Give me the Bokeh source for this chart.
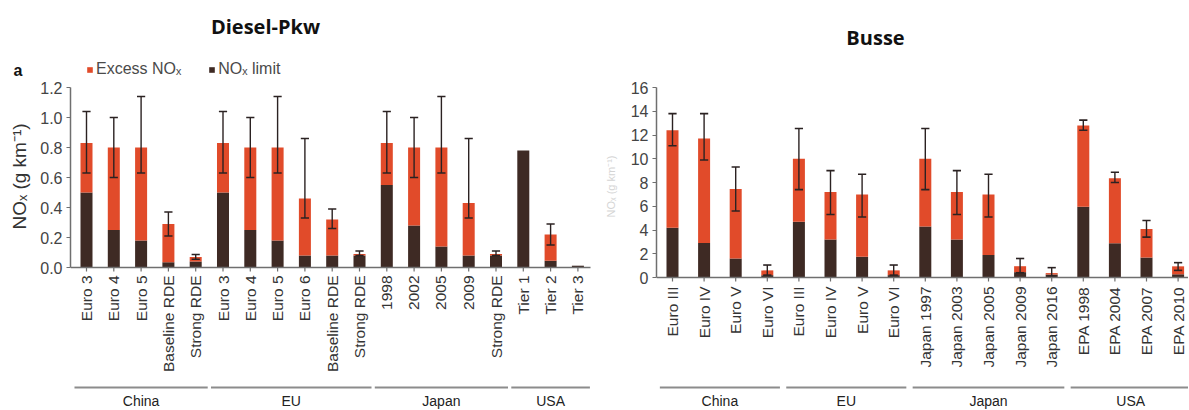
import math
from bokeh.plotting import figure
from bokeh.layouts import row
from bokeh.models import (ColumnDataSource, Range1d, FixedTicker, NumeralTickFormatter,
                          Legend, LegendItem)
from bokeh.core.properties import value
from bokeh.embed import file_html
from bokeh.resources import INLINE

# ---------------- data: Diesel-Pkw (NOx, g/km) ----------------
car_labels = ["Euro 3", "Euro 4", "Euro 5", "Baseline RDE", "Strong RDE",
              "Euro 3", "Euro 4", "Euro 5", "Euro 6", "Baseline RDE", "Strong RDE",
              "1998", "2002", "2005", "2009", "Strong RDE",
              "Tier 1", "Tier 2", "Tier 3"]
car_groups = ["China"] * 5 + ["EU"] * 6 + ["Japan"] * 5 + ["USA"] * 3
car_total = [0.83, 0.80, 0.80, 0.29, 0.07,
             0.83, 0.80, 0.80, 0.46, 0.32, 0.09,
             0.83, 0.80, 0.80, 0.43, 0.09,
             0.78, 0.22, 0.012]
car_limit = [0.50, 0.25, 0.18, 0.035, 0.04,
             0.50, 0.25, 0.18, 0.08, 0.08, 0.08,
             0.55, 0.28, 0.14, 0.08, 0.08,
             0.78, 0.045, 0.012]
car_err_low = [0.63, 0.60, 0.63, 0.21, 0.055,
               0.63, 0.60, 0.63, 0.33, 0.26, 0.08,
               0.63, 0.60, 0.63, 0.33, 0.08,
               None, 0.15, None]
car_err_high = [1.04, 1.00, 1.14, 0.37, 0.087,
                1.04, 1.00, 1.14, 0.86, 0.39, 0.11,
                1.04, 1.00, 1.14, 0.86, 0.11,
                None, 0.29, None]
car_ticks = [0.0, 0.2, 0.4, 0.6, 0.8, 1.0, 1.2]

# ---------------- data: Busse ----------------
bus_labels = ["Euro III", "Euro IV", "Euro V", "Euro VI",
              "Euro III", "Euro IV", "Euro V", "Euro VI",
              "Japan 1997", "Japan 2003", "Japan 2005", "Japan 2009", "Japan 2016",
              "EPA 1998", "EPA 2004", "EPA 2007", "EPA 2010"]
bus_groups = ["China"] * 4 + ["EU"] * 4 + ["Japan"] * 5 + ["USA"] * 4
bus_total = [12.4, 11.7, 7.45, 0.6,
             10.0, 7.2, 7.0, 0.6,
             10.0, 7.2, 7.0, 0.95, 0.37,
             12.8, 8.35, 4.08, 0.94]
bus_limit = [4.2, 2.9, 1.6, 0.2,
             4.7, 3.2, 1.75, 0.2,
             4.3, 3.2, 1.9, 0.45, 0.25,
             5.96, 2.88, 1.68, 0.27]
bus_err_low = [11.1, 9.9, 5.6, 0.2,
               7.4, 5.3, 5.1, 0.2,
               7.4, 5.3, 5.1, 0.4, 0.1,
               12.4, 8.0, 3.4, 0.6]
bus_err_high = [13.8, 13.8, 9.3, 1.05,
                12.55, 9.0, 8.7, 1.05,
                12.55, 9.0, 8.7, 1.6, 0.83,
                13.25, 8.86, 4.8, 1.25]
bus_ticks = [0, 2, 4, 6, 8, 10, 12, 14, 16]

RED = "#e14b2a"
DARK = "#3e2a24"
ERR = "#2b2222"
AXIS = "#6f6f6f"
TXT = "#333333"
FONT = "Liberation Sans"
TITLE_FONT = "Open Sans"
HEIGHT = 409


def strip(width):
    s = figure(width=width, height=HEIGHT, output_backend="svg", toolbar_location=None,
               x_range=Range1d(0, width), y_range=Range1d(0, HEIGHT),
               x_axis_location=None, y_axis_location=None, min_border=0)
    s.outline_line_color = None
    s.grid.visible = False
    return s


def make_panel(labels, groups, total, limit, err_lo, err_hi, ticks, fmt, cfg):
    W = cfg["width"]
    off = cfg["page_x"]
    bar0, dx, y0, ppu = cfg["bar0"], cfg["dx"], cfg["y0"], cfg["ppu"]

    def X(px):  # page x -> data x
        return (px - bar0) / dx

    def Y(py):  # page y -> data y
        return (y0 - py) / ppu

    p = figure(width=W, height=HEIGHT, output_backend="svg", toolbar_location=None,
               x_range=Range1d(X(cfg["frame_left"]), X(off + W)),
               y_range=Range1d(Y(HEIGHT), Y(0)),
               x_axis_location=None, min_border=0,
               min_border_left=cfg["frame_left"] - off)
    p.outline_line_color = None
    p.grid.visible = False

    n = len(labels)
    xs = list(range(n))
    src = ColumnDataSource(dict(x=xs, total=total, limit=limit, zero=[0] * n))
    r_lim = p.vbar(x="x", bottom="zero", top="limit", width=cfg["bar_w"], source=src,
                   fill_color=DARK, line_color=None)
    r_exc = p.vbar(x="x", bottom="limit", top="total", width=cfg["bar_w"], source=src,
                   fill_color=RED, line_color=None)

    # error bars
    ex = [i for i in xs if err_lo[i] is not None]
    esrc = ColumnDataSource(dict(x=ex, lo=[err_lo[i] for i in ex], hi=[err_hi[i] for i in ex],
                                 xl=[i - cfg["cap"] for i in ex], xr=[i + cfg["cap"] for i in ex]))
    p.segment(x0="x", y0="lo", x1="x", y1="hi", source=esrc, line_color=ERR, line_width=1.4)
    p.segment(x0="xl", y0="hi", x1="xr", y1="hi", source=esrc, line_color=ERR, line_width=1.6)
    p.segment(x0="xl", y0="lo", x1="xr", y1="lo", source=esrc, line_color=ERR, line_width=1.6)

    # x baseline, ticks and rotated category labels
    p.segment(x0=[X(cfg["frame_left"])], y0=[0], x1=[X(cfg["axis_end"])], y1=[0],
              line_color=AXIS, line_width=1.5)
    tick_len = 4 / ppu
    p.segment(x0=xs, y0=[0] * n, x1=xs, y1=[-tick_len] * n, line_color=AXIS, line_width=1.2)
    p.text(x=xs, y=[Y(cfg["label_top"])] * n, text=labels, angle=math.pi / 2,
           text_align="right", text_baseline="middle", text_font=value(FONT),
           text_font_size=cfg["tick_font"], text_color=TXT)

    # group brackets
    names = []
    for g in groups:
        if g not in names:
            names.append(g)
    gx0, gx1, gxc = [], [], []
    for g in names:
        idx = [i for i, gg in enumerate(groups) if gg == g]
        gx0.append(idx[0] - cfg["gpad"])
        gx1.append(idx[-1] + cfg["gpad"])
        gxc.append((idx[0] + idx[-1]) / 2)
    p.segment(x0=gx0, y0=[Y(cfg["gline"])] * len(names), x1=gx1, y1=[Y(cfg["gline"])] * len(names),
              line_color="#8c8c8c", line_width=2)
    p.text(x=gxc, y=[Y(cfg["glabel"])] * len(names), text=names, text_align="center",
           text_baseline="middle", text_font=value(FONT), text_font_size="14px", text_color="#222222")

    # y axis
    ax = p.yaxis[0]
    ax.ticker = FixedTicker(ticks=ticks)
    ax.formatter = NumeralTickFormatter(format=fmt)
    ax.bounds = (ticks[0], ticks[-1])
    ax.axis_line_color = AXIS
    ax.axis_line_width = 1.5
    ax.major_tick_line_color = AXIS
    ax.major_tick_line_width = 1.2
    ax.major_tick_out = 4
    ax.major_tick_in = 0
    ax.minor_tick_line_color = None
    ax.major_label_text_font = FONT
    ax.major_label_text_font_size = "16px"
    ax.major_label_text_color = "#444444"
    ax.major_label_standoff = 4

    # title
    tx, ty = cfg["title_pos"]
    p.text(x=[X(tx)], y=[Y(ty)], text=[cfg["title"]], text_align="center",
           text_baseline="middle", text_font=value(TITLE_FONT), text_font_style="bold",
           text_font_size="20px", text_color="#111111")
    return p, r_lim, r_exc


left_cfg = dict(page_x=32, width=572, frame_left=70, bar0=86, dx=27.3, y0=267, ppu=150,
                bar_w=0.44, cap=0.15, axis_end=590, label_top=275, tick_font="15.5px",
                gpad=0.44, gline=387, glabel=400, title="Diesel-Pkw", title_pos=(265, 26))
right_cfg = dict(page_x=626, width=562, frame_left=656, bar0=672, dx=31.6, y0=277, ppu=11.875,
                 bar_w=0.38, cap=0.13, axis_end=1188, label_top=286, tick_font="15.5px",
                 gpad=0.4, gline=387, glabel=400, title="Busse", title_pos=(875, 37))

p1, rl1, re1 = make_panel(car_labels, car_groups, car_total, car_limit,
                          car_err_low, car_err_high, car_ticks, "0.0", left_cfg)
p2, rl2, re2 = make_panel(bus_labels, bus_groups, bus_total, bus_limit,
                          bus_err_low, bus_err_high, bus_ticks, "0", right_cfg)

legend = Legend(items=[LegendItem(label="Excess NOₓ", renderers=[re1]),
                       LegendItem(label="NOₓ limit", renderers=[rl1])],
                orientation="horizontal", location=(16, HEIGHT - 78), glyph_width=7, glyph_height=7,
                label_standoff=3, spacing=27, padding=0, margin=0, label_height=16,
                label_text_font=FONT, label_text_font_size="16px", label_text_color="#4a4a4a",
                background_fill_alpha=0, border_line_alpha=0)
p1.add_layout(legend)

# left strip: panel letter and y-axis title
s1 = strip(32)
s1.text(x=[13], y=[HEIGHT - 70], text=["a"], text_align="left", text_baseline="middle",
        text_font=value(FONT), text_font_style="bold", text_font_size="16px", text_color="#111111")
s1.text(x=[19], y=[HEIGHT - 176], text=["NOₓ (g km⁻¹)"], angle=math.pi / 2,
        text_align="center", text_baseline="middle", text_font=value(FONT),
        text_font_size="19px", text_color=TXT)

# right strip: faint remnant of the y-axis title
s2 = strip(22)
s2.text(x=[6], y=[HEIGHT - 186], text=["NOₓ (g km⁻¹)"], angle=math.pi / 2,
        text_align="center", text_baseline="middle", text_font=value(FONT),
        text_font_size="11px", text_color="#d4d4d4")

layout = row(s1, p1, s2, p2)
open("out.html", "w").write(file_html(layout, INLINE))
